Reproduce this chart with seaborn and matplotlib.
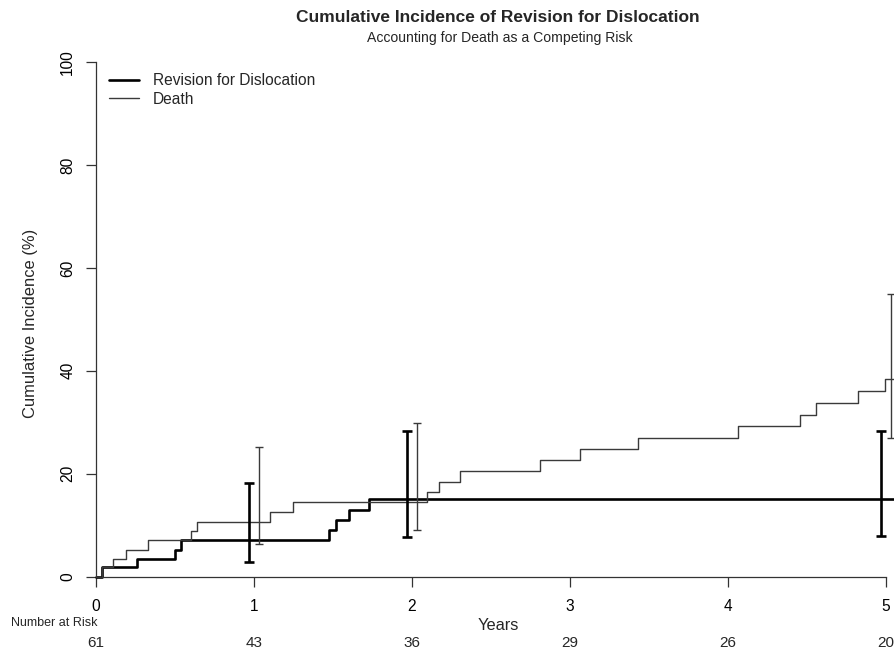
import numpy as np
import pandas as pd
import matplotlib
matplotlib.use('Agg')
import matplotlib.pyplot as plt
import seaborn as sns

# Step curves (time in years, cumulative incidence in %)
rev_time = [0, 0.036, 0.257, 0.50, 0.54, 1.473, 1.52, 1.60, 1.73, 5.2]
rev_ci = [0, 1.8, 3.5, 5.2, 7.1, 9.1, 11.1, 13.0, 15.0, 15.0]

death_time = [0, 0.036, 0.105, 0.19, 0.327, 0.60, 0.64, 1.103, 1.245, 2.097, 2.17,
              2.306, 2.81, 3.065, 3.43, 4.065, 4.456, 4.557, 4.82, 4.994, 5.2]
death_ci = [0, 1.8, 3.5, 5.2, 7.1, 8.9, 10.7, 12.6, 14.5, 16.4, 18.4,
            20.5, 22.7, 24.85, 27.0, 29.3, 31.5, 33.7, 36.0, 38.4, 38.4]

# 95% CI at 1, 2 and 5 years
ci_years = [1, 2, 5]
rev_lo = [2.8, 7.8, 7.9]
rev_hi = [18.3, 28.35, 28.3]
rev_mid = [7.1, 15.0, 15.0]
death_lo = [6.35, 9.1, 26.9]
death_hi = [25.2, 29.9, 55.0]
death_mid = [10.7, 14.5, 38.4]

# number at risk
risk_years = [0, 1, 2, 3, 4, 5]
at_risk = [61, 43, 36, 29, 26, 20]

rev = pd.DataFrame({'time': rev_time, 'ci': rev_ci})
death = pd.DataFrame({'time': death_time, 'ci': death_ci})

sns.set_style('ticks')
plt.rcParams['font.family'] = ['Liberation Sans', 'DejaVu Sans']

W, H = 894, 651
fig = plt.figure(figsize=(W / 100, H / 100), dpi=100)
ax = fig.add_axes([96 / W, (H - 576.7) / H, (W - 96) / W, (576.7 - 62) / H])

thick = '#000000'
thin = '#3a3a3a'

sns.lineplot(data=rev, x='time', y='ci', drawstyle='steps-post', color=thick,
             lw=1.9, ax=ax, label='Revision for Dislocation', clip_on=False)
sns.lineplot(data=death, x='time', y='ci', drawstyle='steps-post', color=thin,
             lw=1.0, ax=ax, label='Death', clip_on=False)

# error bars are nudged a little apart so both can be seen
off = 0.03
rx = np.array(ci_years) - off
dx = np.array(ci_years) + off
ax.errorbar(rx, rev_mid, yerr=[np.array(rev_mid) - np.array(rev_lo), np.array(rev_hi) - np.array(rev_mid)],
            fmt='none', ecolor=thick, elinewidth=1.9, capsize=3.4, capthick=1.9, clip_on=False)
ax.errorbar(dx, death_mid, yerr=[np.array(death_mid) - np.array(death_lo), np.array(death_hi) - np.array(death_mid)],
            fmt='none', ecolor=thin, elinewidth=1.0, capsize=2.6, capthick=1.0, clip_on=False)

ax.set_xlim(0, 5 + 8 / 158)
ax.set_ylim(0, 100)
ax.set_xticks(risk_years)
ax.set_yticks([0, 20, 40, 60, 80, 100])
for s in ['top', 'right']:
    ax.spines[s].set_visible(False)
ax.spines['left'].set_bounds(0, 100)
ax.spines['bottom'].set_bounds(0, 5)
for s in ['left', 'bottom']:
    ax.spines[s].set_color('#333333')
    ax.spines[s].set_linewidth(0.9)
ax.tick_params(axis='both', length=7, width=0.9, color='#333333', labelsize=11.2, labelcolor='black')
ax.tick_params(axis='x', pad=9)
ax.tick_params(axis='y', pad=8)
for lab in ax.get_yticklabels():
    lab.set_rotation(90)
    lab.set_va('center')
ax.set_xlabel('')
ax.set_ylabel('')

fig.text(31 / W, 1 - 323 / H, 'Cumulative Incidence (%)', rotation=90, ha='center', va='center', fontsize=11.9)
fig.text(498 / W, 1 - 625 / H, 'Years', ha='center', va='center', fontsize=11.8)
fig.text(498 / W, 1 - 18 / H, 'Cumulative Incidence of Revision for Dislocation',
         ha='center', va='center', fontsize=12.5, fontweight='bold')
fig.text(500 / W, 1 - 38 / H, 'Accounting for Death as a Competing Risk',
         ha='center', va='center', fontsize=10.1)

fig.text(11 / W, 1 - 623 / H, 'Number at Risk', ha='left', va='center', fontsize=9)
for t, n in zip(risk_years, at_risk):
    fig.text((96 + 158 * t) / W, 1 - 643 / H, str(n), ha='center', va='center', fontsize=11)

leg = ax.legend(loc='upper left', bbox_to_anchor=(109 / W, 1 - 73 / H), bbox_transform=fig.transFigure,
                frameon=False, fontsize=11.2, handlelength=1.93, handletextpad=0.9, labelspacing=0.25,
                borderpad=0, borderaxespad=0)

fig.savefig('out.png', dpi=100)
